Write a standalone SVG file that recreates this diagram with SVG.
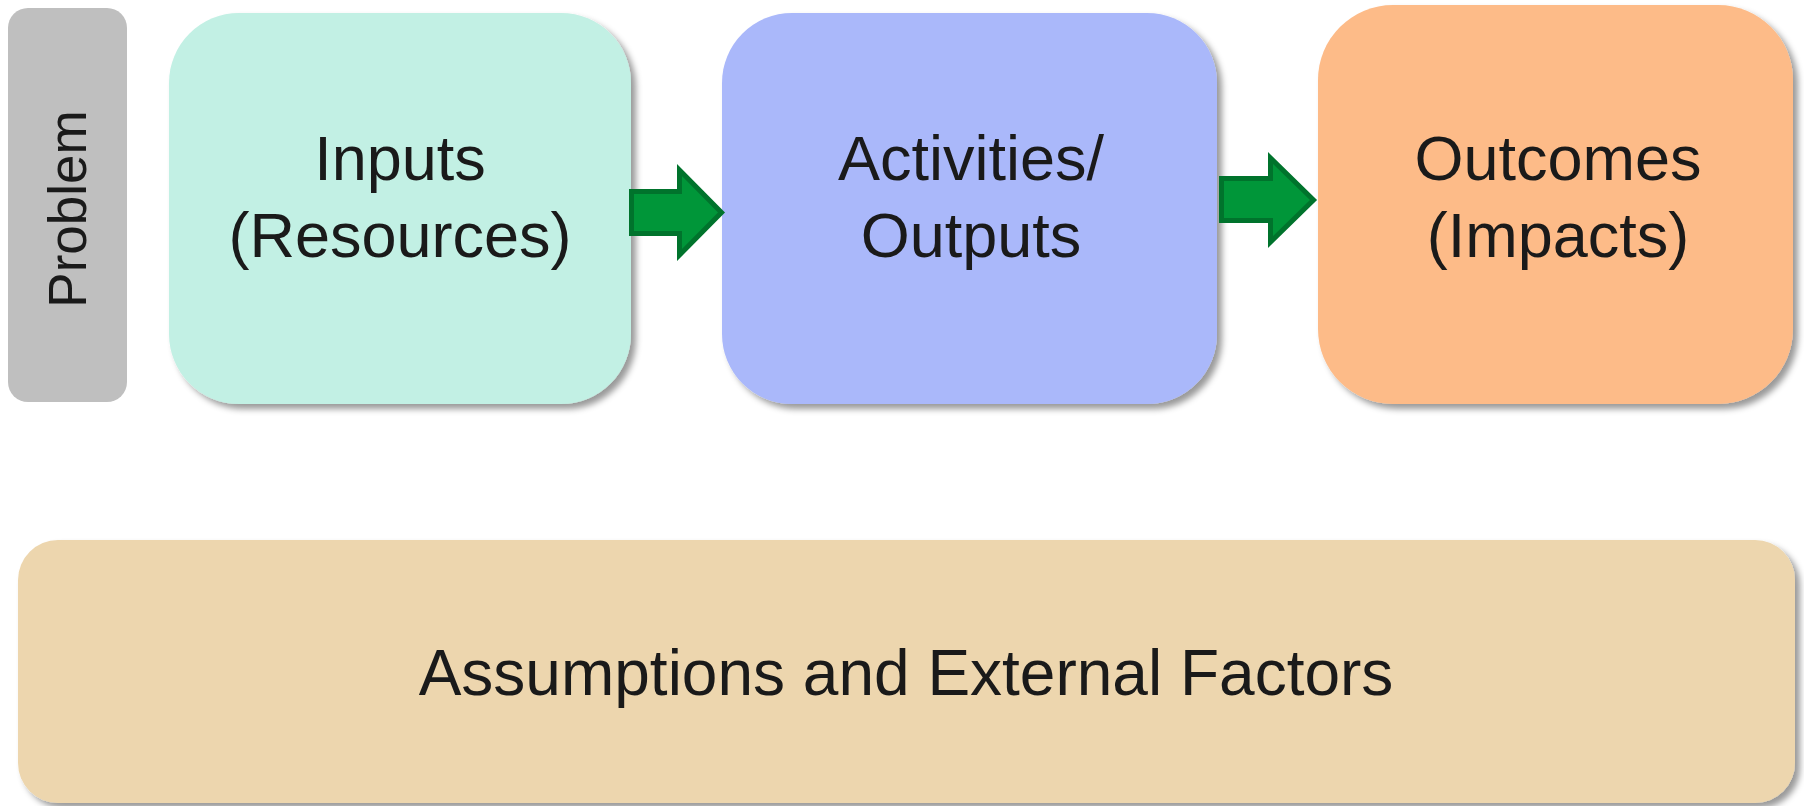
<svg xmlns="http://www.w3.org/2000/svg" width="1804" height="806" viewBox="0 0 1804 806">
  <defs>
    <filter id="shadow" x="-5%" y="-5%" width="115%" height="115%">
      <feDropShadow dx="5" dy="5" stdDeviation="3" flood-color="#000" flood-opacity="0.4"/>
    </filter>
  </defs>
  <style>
    text { font-family: "Liberation Sans", Arial, sans-serif; fill: #1a1a1a; text-anchor: middle; }
    .big { font-size: 63px; }
    .box { filter: url(#shadow); }
    .arrow { fill: #009639; stroke: #00732c; stroke-width: 5; stroke-linejoin: miter; }
  </style>
  <rect width="1804" height="806" fill="#ffffff"/>

  <g id="problem">
    <rect x="8" y="8" width="119" height="394" rx="20" fill="#bfbfbf"/>
    <text x="0" y="0" font-size="53" transform="translate(86 209) rotate(-90)">Problem</text>
  </g>

  <g id="inputs">
    <rect class="box" x="169" y="13" width="462" height="391" rx="70" fill="#c2f0e4"/>
    <text class="big" x="400" y="180">Inputs</text>
    <text class="big" x="400" y="257">(Resources)</text>
  </g>

  <g id="activities">
    <rect class="box" x="722" y="13" width="495" height="391" rx="70" fill="#aab8fa"/>
    <text class="big" x="971" y="180">Activities/</text>
    <text class="big" x="971" y="257">Outputs</text>
  </g>

  <g id="outcomes">
    <rect class="box" x="1318" y="5" width="475" height="399" rx="75" fill="#fdbb88"/>
    <text class="big" x="1558" y="180">Outcomes</text>
    <text class="big" x="1558" y="257">(Impacts)</text>
  </g>

  <g id="assumptions">
    <rect class="box" x="18" y="540" width="1777" height="263" rx="40" fill="#edd6ae"/>
    <text x="906" y="695" font-size="64">Assumptions and External Factors</text>
  </g>

  <g id="connectors">
    <polygon class="arrow" points="631.5,191.5 679.5,191.5 679.5,170 721.5,212.5 679.5,255 679.5,233.5 631.5,233.5"/>
    <polygon class="arrow" points="1221.5,178.5 1270.5,178.5 1270.5,158 1313.5,200 1270.5,242 1270.5,220.5 1221.5,220.5"/>
  </g>
</svg>
